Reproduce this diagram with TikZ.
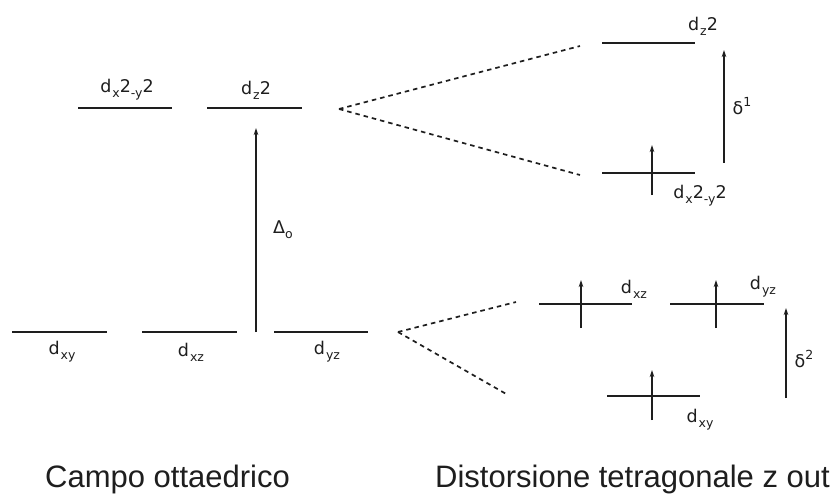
\documentclass[tikz,border=0pt]{standalone}
\usepackage{fontspec}
\setmainfont{Liberation Sans}
\newfontfamily\labfont{DejaVu Sans}
\usetikzlibrary{arrows.meta}
\definecolor{ink}{HTML}{1E1E1E}
\newcommand{\lsub}[1]{\raisebox{-0.28em}{\fontsize{12.5}{13}\selectfont #1}}
\newcommand{\lsup}[1]{\raisebox{0.45em}{\fontsize{12.5}{13}\selectfont #1}}
\begin{document}
\begin{tikzpicture}[x=1pt,y=-1pt,
  lvl/.style={draw=ink, line width=2.2pt},
  updown/.style={draw=ink, line width=1.8pt, -{Stealth[length=7pt,width=4.5pt]}},
  spl/.style={draw=ink, line width=1.7pt, dash pattern=on 4.5pt off 4pt},
  lab/.style={font=\labfont\fontsize{17.5}{19}\selectfont, text=ink, inner sep=0pt},
  title/.style={font=\fontsize{31}{36}\selectfont, text=ink, inner sep=0pt, anchor=base west}]
\path[fill=white] (0,0) rectangle (838,500);
\useasboundingbox (0,0) rectangle (838,500);

% ---- octahedral field levels ----
\coordinate (x2a) at (78,108);  \coordinate (x2b) at (172,108);
\coordinate (z2a) at (207,108); \coordinate (z2b) at (302,108);
\coordinate (xya) at (12,332);  \coordinate (xyb) at (107,332);
\coordinate (xza) at (142,332); \coordinate (xzb) at (237,332);
\coordinate (yza) at (274,332); \coordinate (yzb) at (368,332);
\draw[lvl] (x2a) -- (x2b);
\draw[lvl] (z2a) -- (z2b);
\draw[lvl] (xya) -- (xyb);
\draw[lvl] (xza) -- (xzb);
\draw[lvl] (yza) -- (yzb);

\node[lab] (lx2) at (127,90) {d\hspace{1pt}\lsub{x}2\lsub{-y}2};
\node[lab] (lz2) at (256,90) {d\hspace{1pt}\lsub{z}2};
\node[lab] (lxy) at (62,352) {d\hspace{1pt}\lsub{xy}};
\node[lab] (lxz) at (191,352) {d\hspace{1pt}\lsub{xz}};
\node[lab] (lyz) at (327,352) {d\hspace{1pt}\lsub{yz}};

% Delta_o
\coordinate (dos) at (256,332); \coordinate (doe) at (256,128);
\draw[updown] (dos) -- (doe);
\node[lab] (ldo) at (283,230) {Δ\lsub{o}};

% ---- splitting lines ----
\coordinate (v1) at (339,109);
\coordinate (e1) at (580,46);  \coordinate (e2) at (580,175);
\coordinate (v2) at (398,332);
\coordinate (e3) at (516,302); \coordinate (e4) at (508,395);
\draw[spl] (v1) -- (e1);
\draw[spl] (v1) -- (e2);
\draw[spl] (v2) -- (e3);
\draw[spl] (v2) -- (e4);

% ---- tetragonal levels ----
\coordinate (tz2a) at (602,43);  \coordinate (tz2b) at (695,43);
\coordinate (tx2a) at (602,173); \coordinate (tx2b) at (695,173);
\coordinate (txza) at (539,304); \coordinate (txzb) at (632,304);
\coordinate (tyza) at (670,304); \coordinate (tyzb) at (764,304);
\coordinate (txya) at (607,396); \coordinate (txyb) at (700,396);
\draw[lvl] (tz2a) -- (tz2b);
\draw[lvl] (tx2a) -- (tx2b);
\draw[lvl] (txza) -- (txzb);
\draw[lvl] (tyza) -- (tyzb);
\draw[lvl] (txya) -- (txyb);

% electrons
\coordinate (u1s) at (652,195); \coordinate (u1e) at (652,145);
\coordinate (u2s) at (581,328); \coordinate (u2e) at (581,280);
\coordinate (u3s) at (716,328); \coordinate (u3e) at (716,280);
\coordinate (u4s) at (652,420); \coordinate (u4e) at (652,370);
\draw[updown] (u1s) -- (u1e);
\draw[updown] (u2s) -- (u2e);
\draw[updown] (u3s) -- (u3e);
\draw[updown] (u4s) -- (u4e);

% delta gaps
\coordinate (g1s) at (724,163); \coordinate (g1e) at (724,50);
\coordinate (g2s) at (786,398); \coordinate (g2e) at (786,308);
\draw[updown] (g1s) -- (g1e);
\draw[updown] (g2s) -- (g2e);

\node[lab] (tlz2) at (703,26)  {d\hspace{1pt}\lsub{z}2};
\node[lab] (tlx2) at (700,196) {d\hspace{1pt}\lsub{x}2\lsub{-y}2};
\node[lab] (tlxz) at (634,289) {d\hspace{1pt}\lsub{xz}};
\node[lab] (tlyz) at (763,287) {d\hspace{1pt}\lsub{yz}};
\node[lab] (tlxy) at (700,420) {d\hspace{1pt}\lsub{xy}};
\node[lab] (ld1) at (742,106) {δ\lsup{1}};
\node[lab] (ld2) at (804,359) {δ\lsup{2}};

% ---- captions ----
\node[title] (c1) at (45,487) {Campo ottaedrico};
\node[title] (c2) at (435,487) {Distorsione tetragonale z out};
\end{tikzpicture}
\end{document}
